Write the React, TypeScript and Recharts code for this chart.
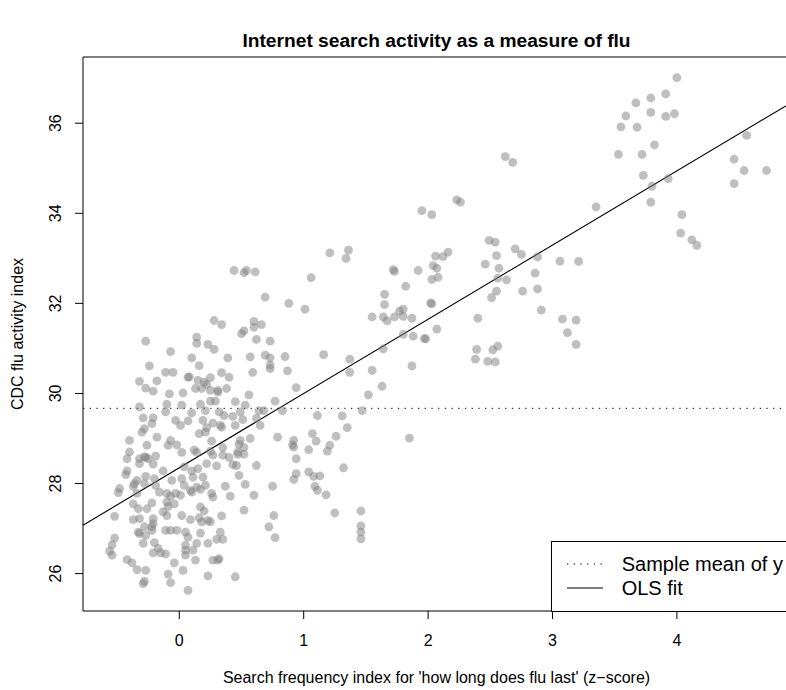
import React from 'react';
import { ScatterChart, Scatter, XAxis, YAxis, ReferenceLine, ReferenceArea, Label } from 'recharts';

const FONT = '"Liberation Sans", Arial, Helvetica, sans-serif';

// axis ranges and ticks
const xDomain: [number, number] = [-0.774, 4.909];
const yDomain: [number, number] = [25.17, 37.47];
const xTicks = [0, 1, 2, 3, 4];
const yTicks = [26, 28, 30, 32, 34, 36];

const legendLabels = ['Sample mean of y', 'OLS fit'];

// fitted values
const sampleMean = 29.67;
const olsIntercept = 28.35;
const olsSlope = 1.648;

// [search index z-score, CDC flu activity index]
const observations: [number, number][] = [
  [4.00, 37.01], [3.91, 36.65], [3.79, 36.56], [3.67, 36.45], [3.59, 36.16], [3.79, 36.24], [3.91, 36.15], [3.98, 36.21],
  [3.55, 35.92], [3.68, 35.91], [4.56, 35.73], [3.82, 35.52], [3.53, 35.31], [3.72, 35.31], [4.46, 35.20], [2.62, 35.26],
  [2.68, 35.13], [4.54, 34.95], [4.72, 34.95], [3.73, 34.84], [3.93, 34.77], [3.80, 34.60], [4.46, 34.66], [3.79, 34.25],
  [3.35, 34.14], [2.23, 34.30], [2.26, 34.25], [1.95, 34.06], [2.03, 33.97], [4.04, 33.97], [4.03, 33.56], [4.12, 33.41],
  [4.16, 33.29], [2.49, 33.40], [2.54, 33.36], [2.70, 33.21], [2.75, 33.09], [2.88, 33.03], [2.55, 33.06], [2.06, 33.05],
  [2.12, 33.04], [2.16, 33.14], [2.46, 32.87], [2.57, 32.78], [2.04, 32.84], [2.07, 32.78], [3.06, 32.94], [3.21, 32.93],
  [1.72, 32.75], [1.73, 32.71], [1.92, 32.73], [2.86, 32.67], [2.56, 32.56], [2.63, 32.52], [2.03, 32.53], [2.08, 32.58],
  [1.82, 32.38], [2.55, 32.27], [2.76, 32.27], [2.88, 32.32], [2.51, 32.13], [2.02, 32.01], [2.03, 31.99], [2.91, 31.85],
  [1.80, 31.87], [1.77, 31.83], [1.73, 31.70], [1.80, 31.71], [1.87, 31.67], [2.40, 31.67], [3.08, 31.65], [3.19, 31.63],
  [2.07, 31.43], [1.80, 31.31], [1.88, 31.27], [1.97, 31.22], [1.98, 31.21], [3.12, 31.35],
  [3.19, 31.09], [2.39, 30.98], [2.38, 30.76], [2.52, 30.97], [2.56, 31.05], [2.48, 30.71], [2.54, 30.70], [1.87, 30.61],
  [1.85, 29.01],
  [0.44, 32.73], [0.52, 32.68], [0.54, 32.73], [0.61, 32.70], [1.21, 33.12], [1.34, 33.00], [1.36, 33.18], [1.06, 32.57],
  [0.69, 32.14], [0.88, 32.00], [1.01, 31.87], [1.65, 32.20], [1.65, 31.97], [1.55, 31.70], [1.64, 31.70], [1.67, 31.61],
  [0.28, 31.62], [0.34, 31.53], [0.60, 31.60], [0.60, 31.47], [0.66, 31.53], [0.52, 31.39], [0.50, 31.33], [0.14, 31.25],
  [-0.27, 31.16], [0.62, 31.20], [0.73, 31.16],
  [0.14, 31.11], [0.23, 31.09], [0.28, 30.98], [-0.07, 30.93], [0.10, 30.79], [0.39, 30.79], [0.57, 30.81], [0.69, 30.85],
  [0.73, 30.79], [0.85, 30.82], [1.16, 30.86], [1.37, 30.76], [1.64, 30.99], [-0.24, 30.61], [0.16, 30.62], [0.73, 30.63],
  [0.73, 30.55], [-0.11, 30.47], [-0.05, 30.47], [0.07, 30.36], [0.08, 30.37], [0.15, 30.29], [0.20, 30.25], [0.22, 30.20],
  [0.25, 30.35], [0.34, 30.46], [0.40, 30.36], [0.59, 30.47], [0.87, 30.50], [1.37, 30.47], [1.55, 30.51],
  [-0.32, 30.27], [-0.18, 30.28], [-0.27, 30.12], [-0.21, 30.05], [-0.08, 29.99], [0.03, 30.01], [0.13, 30.11], [0.18, 30.11],
  [0.25, 30.07], [0.31, 30.07], [0.31, 30.03], [0.38, 30.11], [0.56, 29.97], [0.94, 30.13], [1.63, 30.16], [1.52, 29.97],
  [-0.32, 29.70], [-0.10, 29.76], [-0.11, 29.59], [0.02, 29.74], [0.10, 29.57], [0.17, 29.76], [0.21, 29.62], [0.25, 29.83],
  [0.29, 29.83], [0.45, 29.82], [0.53, 29.74], [0.32, 29.59], [0.36, 29.51], [0.49, 29.59], [0.64, 29.62], [0.68, 29.62],
  [0.77, 29.83], [0.83, 29.62],
  [-0.29, 29.46], [-0.21, 29.46], [-0.22, 29.33], [-0.03, 29.40], [0.01, 29.29], [0.07, 29.39], [0.19, 29.40], [0.27, 29.34],
  [0.43, 29.49], [0.51, 29.42], [0.62, 29.45], [0.65, 29.29], [1.11, 29.51], [1.31, 29.50], [1.47, 29.62],
  [-0.28, 29.22], [-0.30, 29.14], [-0.18, 29.03], [-0.07, 28.96], [-0.02, 28.86], [0.16, 29.11], [0.22, 29.24], [0.21, 29.14],
  [0.33, 29.29], [0.34, 29.25], [0.45, 29.29], [0.26, 28.94], [0.57, 29.00], [0.49, 28.96], [0.48, 28.87], [0.79, 29.03],
  [1.07, 29.11], [1.10, 28.94], [1.26, 29.05], [1.35, 29.24],
  [-0.40, 28.96], [-0.26, 28.85], [-0.09, 28.85], [0.52, 28.80], [0.92, 28.96], [0.91, 28.86], [0.92, 28.81], [1.21, 28.85],
  [1.19, 28.72], [1.04, 28.75],
  [-0.40, 28.70], [-0.42, 28.55], [-0.32, 28.55], [-0.28, 28.59], [-0.27, 28.58], [-0.25, 28.55], [-0.19, 28.61], [0.02, 28.69],
  [0.12, 28.74], [0.14, 28.69], [0.25, 28.72], [0.35, 28.80], [0.35, 28.63], [0.27, 28.63], [0.47, 28.70], [0.47, 28.65],
  [0.52, 28.65], [0.40, 28.58],
  [-0.32, 28.44], [-0.21, 28.43], [0.04, 28.37], [0.10, 28.28], [0.15, 28.33], [0.22, 28.44], [0.30, 28.39], [0.43, 28.42],
  [0.46, 28.40], [0.62, 28.40], [0.94, 28.55],
  [-0.42, 28.28], [-0.43, 28.20], [-0.13, 28.28], [-0.27, 28.16], [-0.20, 28.11], [-0.34, 28.07], [-0.36, 28.00], [-0.06, 28.07],
  [0.02, 28.11], [0.11, 28.14], [0.19, 28.14], [0.48, 28.18], [0.92, 28.09], [0.94, 28.22], [1.04, 28.26], [1.08, 28.16],
  [1.13, 28.17], [1.32, 28.35],
  [-0.48, 27.89], [-0.49, 27.80], [-0.37, 27.94], [-0.28, 28.00], [-0.19, 27.96], [0.04, 27.96], [0.09, 27.85], [0.10, 27.81],
  [0.14, 27.92], [0.17, 27.87], [0.21, 27.96], [0.37, 27.94], [0.53, 27.98], [0.75, 27.94], [1.09, 27.94], [1.11, 27.85],
  [-0.34, 27.78], [-0.16, 27.81], [-0.10, 27.78], [-0.07, 27.72], [-0.03, 27.78], [0.01, 27.74], [0.26, 27.78], [0.27, 27.70],
  [0.41, 27.72], [0.60, 27.74], [1.18, 27.75],
  [-0.37, 27.55], [-0.33, 27.44], [-0.26, 27.44], [-0.22, 27.57], [-0.10, 27.59], [-0.09, 27.49], [-0.04, 27.55], [0.17, 27.48],
  [0.20, 27.39], [0.52, 27.41],
  [-0.52, 27.27], [-0.37, 27.20], [-0.32, 27.22], [-0.21, 27.22], [-0.21, 27.11], [-0.13, 27.37], [-0.10, 27.29], [0.02, 27.29],
  [0.09, 27.20], [0.16, 27.24], [0.18, 27.15], [0.23, 27.18], [0.25, 27.15], [0.34, 27.28], [0.76, 27.29], [1.25, 27.35],
  [1.46, 27.39],
  [-0.52, 26.79], [-0.54, 26.64], [-0.56, 26.50], [-0.54, 26.41], [-0.33, 26.92], [-0.32, 26.89], [-0.28, 27.04], [-0.27, 26.85],
  [-0.22, 27.04], [-0.22, 26.96], [-0.11, 26.96], [-0.07, 26.96], [-0.02, 26.96], [0.05, 26.92], [0.07, 26.81], [0.17, 26.90],
  [0.33, 26.92], [0.35, 26.76], [0.30, 26.76], [0.14, 26.67], [0.23, 26.67], [-0.29, 26.67], [-0.20, 26.69], [-0.17, 26.56],
  [-0.15, 26.46], [-0.11, 26.44], [-0.21, 26.46], [0.72, 27.04], [0.77, 26.80], [1.46, 27.06], [1.46, 26.92], [1.46, 26.77],
  [0.05, 26.63], [0.05, 26.52], [0.05, 26.41], [0.11, 26.52], [0.27, 26.30], [0.32, 26.33], [0.31, 26.30], [0.13, 26.30],
  [-0.42, 26.31], [-0.38, 26.24], [-0.34, 26.09], [-0.27, 26.07], [-0.04, 26.24], [0.03, 26.07], [-0.09, 25.99], [0.23, 25.95],
  [0.45, 25.93], [-0.29, 25.78], [-0.28, 25.83], [-0.07, 25.80], [0.07, 25.63],
];

const scatterData = observations.map(([x, y]) => ({ x, y }));

const olsSegment = [
  { x: xDomain[0], y: olsIntercept + olsSlope * xDomain[0] },
  { x: xDomain[1], y: olsIntercept + olsSlope * xDomain[1] },
];

const Dot = (props: any) => (
  <circle cx={props.cx} cy={props.cy} r={4.4} fill="#7f7f7f" fillOpacity={0.5} />
);

const YTick = (props: any) => {
  const { y, payload } = props;
  return (
    <text
      x={61.5}
      y={y}
      transform={`rotate(-90, 61.5, ${y})`}
      textAnchor="middle"
      fontSize={16}
      fontFamily={FONT}
      fill="#000"
    >
      {payload.value}
    </text>
  );
};

export default function App() {
  return (
    <div style={{ position: 'absolute', left: 0, top: 0, width: 786, height: 690, overflow: 'hidden', background: '#fff' }}>
      <div
        style={{
          position: 'absolute',
          left: 83,
          top: 31,
          width: 707,
          textAlign: 'center',
          fontFamily: FONT,
          fontWeight: 'bold',
          fontSize: 19.2,
          lineHeight: '20px',
          color: '#000',
        }}
      >
        Internet search activity as a measure of flu
      </div>
      <ScatterChart width={800} height={690} margin={{ top: 57, right: 10, bottom: 0, left: 0 }}>
        <XAxis
          type="number"
          dataKey="x"
          domain={xDomain}
          allowDataOverflow
          ticks={xTicks}
          interval={0}
          height={79}
          tickSize={8}
          tickMargin={16}
          axisLine={false}
          tickLine={{ stroke: '#000' }}
          tick={{ fill: '#000', fontSize: 16, fontFamily: FONT }}
        >
          <Label
            content={() => (
              <text x={436.5} y={683} textAnchor="middle" fontSize={16} fontFamily={FONT} fill="#000">
                Search frequency index for 'how long does flu last' (z−score)
              </text>
            )}
          />
        </XAxis>
        <YAxis
          type="number"
          dataKey="y"
          domain={yDomain}
          allowDataOverflow
          ticks={yTicks}
          interval={0}
          width={83}
          tickSize={8}
          axisLine={false}
          tickLine={{ stroke: '#000' }}
          tick={(p: any) => <YTick {...p} />}
        >
          <Label
            content={() => (
              <text
                x={22.7}
                y={334}
                transform="rotate(-90, 22.7, 334)"
                textAnchor="middle"
                fontSize={16}
                fontFamily={FONT}
                fill="#000"
              >
                CDC flu activity index
              </text>
            )}
          />
        </YAxis>
        <Scatter data={scatterData} isAnimationActive={false} shape={(p: any) => <Dot {...p} />} />
        <ReferenceLine y={sampleMean} stroke="#000" strokeWidth={1} strokeDasharray="1.3 5.4" />
        <ReferenceLine segment={olsSegment} stroke="#000" strokeWidth={1.1} ifOverflow="visible" />
        <ReferenceArea
          x1={xDomain[0]}
          x2={xDomain[1]}
          y1={yDomain[0]}
          y2={yDomain[1]}
          fill="none"
          fillOpacity={0}
          stroke="#000"
          strokeWidth={1}
          ifOverflow="visible"
        />
      </ScatterChart>
      <div
        style={{
          position: 'absolute',
          left: 551,
          top: 541,
          width: 260,
          height: 71,
          boxSizing: 'border-box',
          border: '1px solid #000',
          background: '#fff',
        }}
      >
        <svg width={260} height={70} style={{ position: 'absolute', left: -1, top: -1 }}>
          <line x1={16} x2={51} y1={23} y2={23} stroke="#000" strokeDasharray="1.3 5.4" />
          <line x1={16} x2={52} y1={47} y2={47} stroke="#000" />
          <text x={70.7} y={30.2} fontSize={20} fontFamily={FONT} fill="#000">
            {legendLabels[0]}
          </text>
          <text x={70.7} y={54.2} fontSize={20} fontFamily={FONT} fill="#000">
            {legendLabels[1]}
          </text>
        </svg>
      </div>
    </div>
  );
}
